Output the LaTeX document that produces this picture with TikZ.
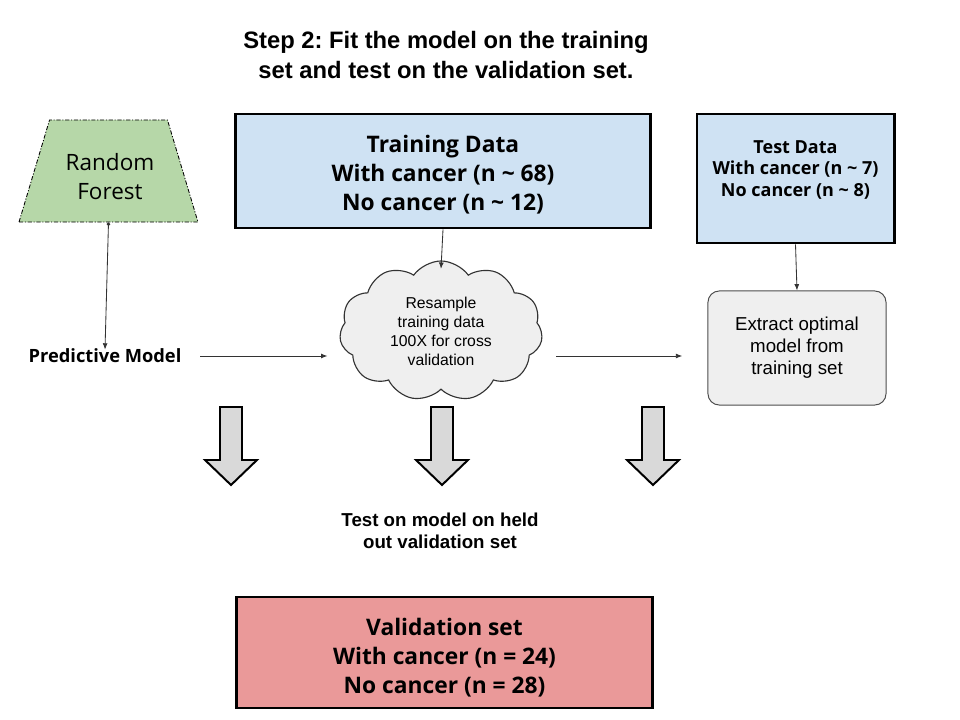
\documentclass[tikz,border=0pt]{standalone}
\usepackage{fontspec}
\setmainfont{Liberation Sans}
\newfontfamily\opensans{Open Sans}
\usetikzlibrary{positioning,arrows.meta,shapes.geometric,shapes.symbols}
\definecolor{rfgreen}{HTML}{B6D7A8}
\definecolor{trainblue}{HTML}{CFE2F3}
\definecolor{valred}{HTML}{EA9999}
\definecolor{cloudgray}{HTML}{EFEFEF}
\definecolor{blockgray}{HTML}{D9D9D9}
\frenchspacing
\tikzset{px/.style={x=0.025cm, y=-0.025cm}}
\tikzset{databox/.style={draw, line width=2.1pt, inner sep=0pt}}
\tikzset{boxtext/.style={align=center, font=\opensans\bfseries\fontsize{16.2}{20.6}\selectfont}}
\tikzset{smalltext/.style={align=center, font=\opensans\bfseries\fontsize{12.8}{15.6}\selectfont}}
\tikzset{plaintext/.style={align=center, font=\bfseries\fontsize{13.3}{15.6}\selectfont}}
\tikzset{arr1/.style={draw, -{Latex[length=4.5pt,width=3.5pt]}, line width=0.6pt, black!80}}
\tikzset{blockarr/.style={draw, line width=1.4pt, fill=blockgray, line join=miter}}
\newcommand\downblock[1]{
			\draw[blockarr] (#1-11,407) -- (#1+11,407) -- (#1+11,460) -- (#1+26,460)
			 -- (#1,485) -- (#1-26,460) -- (#1-11,460) -- cycle;
			}
\begin{document}
\begin{tikzpicture}[px]
		\useasboundingbox (0,0) rectangle (960,720);
		\node[align=center, font=\bfseries\fontsize{16.9}{21.3}\selectfont] (title) at (446,55) {Step 2: Fit the model on the training\\set and test on the validation set.};
		\node[trapezium, trapezium angle=75.5, trapezium stretches=true, minimum width=4.475cm, minimum height=2.55cm,
		      draw, line width=0.6pt, dash pattern=on 3pt off 1.2pt on 0.8pt off 1.2pt, fill=rfgreen] (rf) at (108.5,171) {};
		\node[align=center, font=\opensans\fontsize{16}{20.6}\selectfont] (rftext) at (110,177) {Random\\Forest};
		\node[databox, fill=trainblue, minimum width=10.35cm, minimum height=2.85cm] (train) at (443,171) {};
		\node[boxtext] (traintext) at (443,175)
		      {Training Data\\With cancer (n \textasciitilde\ 68)\\No cancer (n \textasciitilde\ 12)};
		\node[databox, fill=trainblue, minimum width=4.925cm, minimum height=3.225cm] (test) at (795.5,178.5) {};
		\node[smalltext] (testtext) at (795.5,170)
		      {Test Data\\With cancer (n \textasciitilde\ 7)\\No cancer (n \textasciitilde\ 8)};
		\node[font=\opensans\bfseries\fontsize{13}{15}\selectfont] (pm) at (105,356) {Predictive Model};
		\node[cloud, cloud puffs=11, cloud puff arc=110, aspect=1.5, draw=black!80, line width=0.8pt, fill=cloudgray,
		      minimum width=5.075cm, minimum height=3.5cm, inner sep=0pt, align=center,
		      font=\fontsize{11.2}{13.5}\selectfont] (cloud) at (441,331)
		      {Resample\\training data\\100X for cross\\validation};
		\node[draw=black!70, line width=0.7pt, rounded corners=8pt, fill=cloudgray, minimum width=4.45cm,
		      minimum height=2.85cm, align=center, font=\fontsize{13.3}{15.6}\selectfont] (extract) at (797,348)
		      {Extract optimal\\model from\\training set};
		\foreach \bx in {231,442,653} {\downblock{\bx}}
		\node[plaintext] (heldout) at (440,531) {Test on model on held\\out validation set};
		\node[databox, fill=valred, minimum width=10.375cm, minimum height=2.775cm] (val) at (444.5,652.5) {};
		\node[boxtext] (valtext) at (444.5,657.5)
		      {Validation set\\With cancer (n = 24)\\No cancer (n = 28)};
		% connectors
		\draw[arr1, {Circle[length=2.5pt]}-{Latex[length=4.5pt,width=3.5pt]}] (rf.south) -- ([yshift=-4pt]pm.north);
		\draw[arr1, shorten <=10pt, shorten >=9pt] (pm.east) -- (pm.east -| cloud.west);
		\draw[arr1] (train.south) -- ([yshift=-6pt]cloud.north);
		\draw[arr1, shorten <=10pt, shorten >=18pt] (pm.east -| cloud.east) -- (pm.east -| extract.west);
		\draw[arr1] (test.south) -- (extract.north);
	\end{tikzpicture}
\end{document}
